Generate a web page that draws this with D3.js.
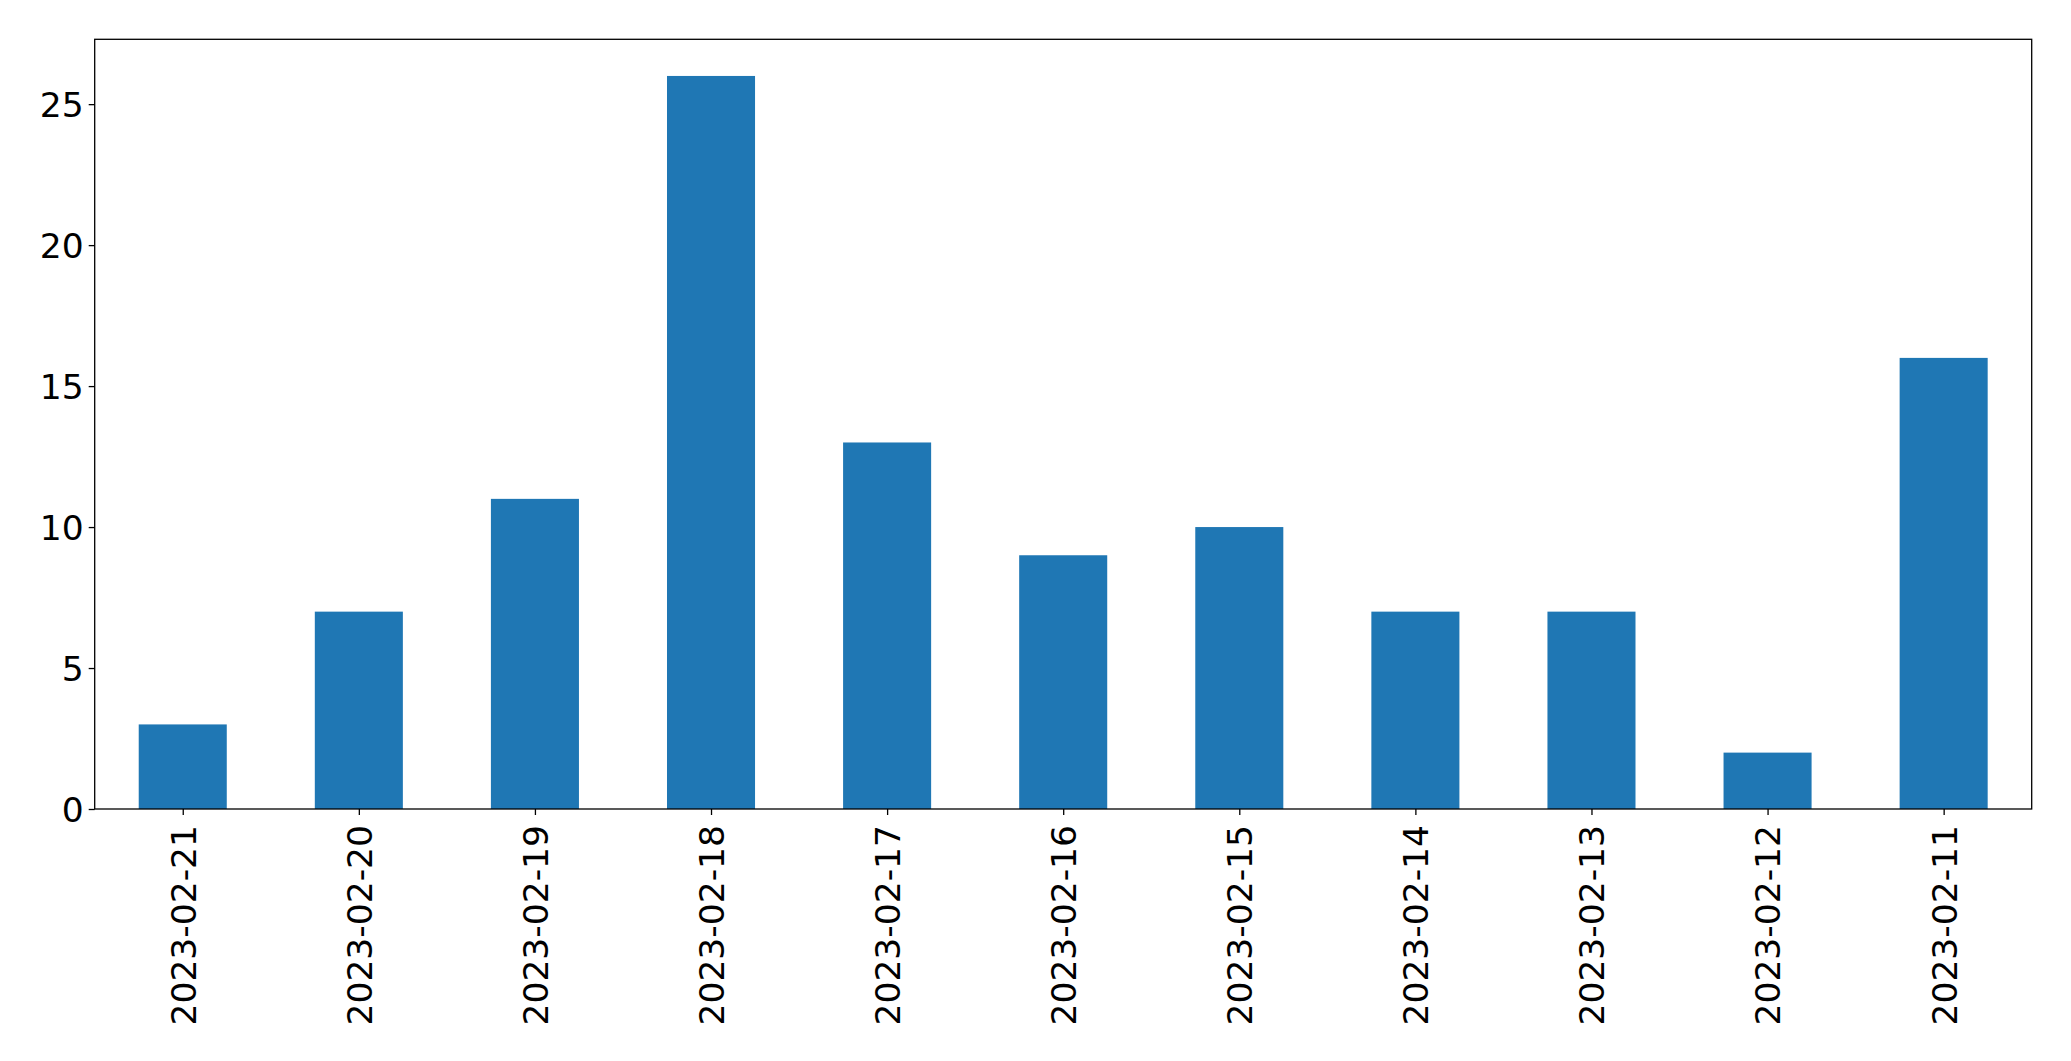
<!DOCTYPE html>
<html>
<head>
<meta charset="utf-8">
<script src="https://cdn.jsdelivr.net/npm/d3@7"></script>
<style>
  html, body { margin: 0; padding: 0; background: #fff; }
  svg { display: block; }
  text { font-family: "DejaVu Sans", sans-serif; fill: #000; }
</style>
</head>
<body>
<svg id="chart" width="2071" height="1061"></svg>
<script>
const categories = ["2023-02-21","2023-02-20","2023-02-19","2023-02-18","2023-02-17","2023-02-16","2023-02-15","2023-02-14","2023-02-13","2023-02-12","2023-02-11"];
const values = [3, 7, 11, 26, 13, 9, 10, 7, 7, 2, 16];
const yTicks = [0, 5, 10, 15, 20, 25];

const W = 2071, H = 1061;
const margin = { left: 94.7, right: W - 2031.7, top: 39.3, bottom: H - 809 };
const svg = d3.select("#chart");
const pw = W - margin.left - margin.right;
const ph = H - margin.top - margin.bottom;

const x = d3.scaleLinear().domain([-0.5, categories.length - 0.5]).range([margin.left, margin.left + pw]);
const ymax = d3.max(values) * 1.05;
const y = d3.scaleLinear().domain([0, ymax]).range([margin.top + ph, margin.top]);

const barW = 0.5;
svg.append("g").selectAll("rect").data(values).join("rect")
  .attr("x", (d, i) => x(i - barW / 2))
  .attr("width", (d, i) => x(i + barW / 2) - x(i - barW / 2))
  .attr("y", d => y(d))
  .attr("height", d => y(0) - y(d))
  .attr("fill", "#1f77b4");

const fs = 34.5, tickLen = 6, pad = 6;

// y axis
const yAxis = d3.axisLeft(y).tickValues(yTicks).tickSize(tickLen).tickPadding(pad - 1).tickFormat(d3.format("d"));
const gy = svg.append("g").attr("transform", `translate(${margin.left},0)`).call(yAxis);
gy.select(".domain").remove();
gy.selectAll("line").attr("stroke", "#000").attr("stroke-width", 1.3);
gy.selectAll("text").attr("font-size", fs).attr("font-family", "DejaVu Sans").attr("dy", "0.36em");

// x axis
const xAxis = d3.axisBottom(x).tickValues(d3.range(categories.length)).tickSize(tickLen).tickPadding(pad).tickFormat(i => categories[i]);
const gx = svg.append("g").attr("transform", `translate(0,${margin.top + ph})`).call(xAxis);
gx.select(".domain").remove();
gx.selectAll("line").attr("stroke", "#000").attr("stroke-width", 1.3);
gx.selectAll("text")
  .attr("font-size", fs)
  .attr("font-family", "DejaVu Sans")
  .attr("text-anchor", "end")
  .attr("y", 0).attr("x", 0)
  .attr("dy", "0.36em")
  .attr("transform", `translate(0,${tickLen + pad + 4}) rotate(-90)`);

// frame
svg.append("rect")
  .attr("x", margin.left).attr("y", margin.top)
  .attr("width", pw).attr("height", ph)
  .attr("fill", "none").attr("stroke", "#000").attr("stroke-width", 1.3);
</script>
</body>
</html>
